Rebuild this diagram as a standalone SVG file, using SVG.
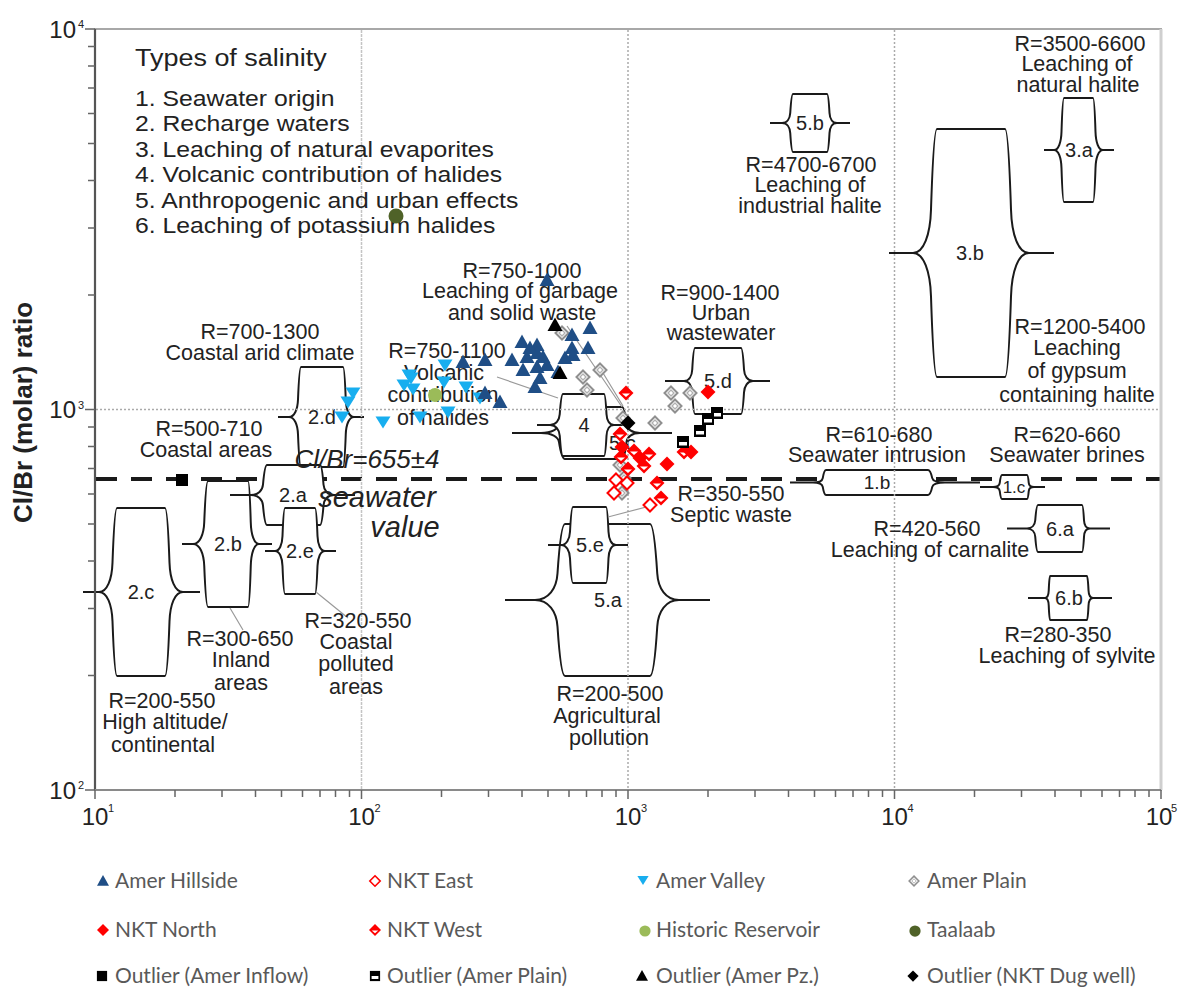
<svg xmlns="http://www.w3.org/2000/svg" xmlns:xlink="http://www.w3.org/1999/xlink" width="1178" height="989" viewBox="0 0 1178 989">
  <style>
    text { font-family: "Liberation Sans", Arial, sans-serif; fill: #222; }
    .ann { font-size: 21.5px; text-anchor: middle; }
    .lab { font-size: 20px; text-anchor: middle; fill: #222; stroke: none; }
    .rng use, .rng path { fill: #fff; stroke: #1a1a1a; stroke-width: 2; }
    .fw { fill: #fff; stroke: none; }
    .grid { stroke: #aaa; stroke-width: 1.5; stroke-dasharray: 2 2; fill: none; }
    .lead { stroke: #9a9a9a; stroke-width: 1.2; fill: none; }
    .tick { stroke: #666; stroke-width: 1.5; fill: none; }
    .dec { font-size: 24px; }
    .sup { font-size: 11px; }
    .it { font-style: italic; }
    .leg { font-family: Lato, "Open Sans", sans-serif; font-size: 21px; fill: #595959; }
  </style>
  <defs>
    <!-- one side of a range bracket: unit height, tip at (1,0) -->
    <path id="br" vector-effect="non-scaling-stroke" d="M0,-1 C0.12,-1 0.2,-0.65 0.25,-0.35 C0.28,-0.15 0.55,0 1,0 C0.55,0 0.28,0.15 0.25,0.35 C0.2,0.65 0.12,1 0,1"/>
    <!-- sample markers -->
    <path id="mHill" d="M0,-7.5 L7.5,6 L-7.5,6 Z" fill="#1f4e86"/>
    <path id="mPz" d="M0,-7.5 L7.5,6 L-7.5,6 Z" fill="#000"/>
    <path id="mValley" d="M-7.5,-5.5 L7.5,-5.5 L0,6.5 Z" fill="#18aeef"/>
    <path id="mEast" d="M0,-6.5 L6.5,0 L0,6.5 L-6.5,0 Z" fill="#fff" stroke="#f00" stroke-width="2"/>
    <g id="mWest"><path d="M0,-7.5 L7.5,0 L0,7.5 L-7.5,0 Z" fill="#f00"/><path d="M-4,0.5 L4,0.5 L0,4 Z" fill="#fff"/></g>
    <path id="mNorth" d="M0,-7.5 L7.5,0 L0,7.5 L-7.5,0 Z" fill="#f00"/>
    <g id="mPlain"><path d="M0,-6.5 L6.5,0 L0,6.5 L-6.5,0 Z" fill="#fff" stroke="#8f8f8f" stroke-width="2"/><path d="M0,-3 L3,0 L0,3 L-3,0 Z" fill="none" stroke="#b0b0b0" stroke-width="1.3"/></g>
    <path id="mDug" d="M0,-7.5 L7.5,0 L0,7.5 L-7.5,0 Z" fill="#000"/>
    <rect id="mInflow" x="-6" y="-6" width="12" height="12" fill="#000"/>
    <g id="mOutPl"><rect x="-6" y="-6" width="12" height="12" fill="#000"/><rect x="-4" y="0" width="8" height="3.5" fill="#fff"/></g>
    <circle id="mHist" r="7" fill="#9bbb59"/>
    <circle id="mTaa" r="7.5" fill="#4f6228"/>
  </defs>

  <rect width="1178" height="989" fill="#fff"/>

  <!-- seawater reference line (Cl/Br = 655) -->
  <line x1="96" y1="479" x2="1161" y2="479" stroke="#1a1a1a" stroke-width="4" stroke-dasharray="21 14"/>

  <!-- range brackets -->
  <g id="shape-2c" class="rng">
    <rect class="fw" x="117" y="508" width="48" height="168"/>
    <use href="#br" transform="translate(165,592) scale(18,84)"/>
    <use href="#br" transform="translate(117,592) scale(-18,84)"/>
    <path d="M83,592H99M183,592H200M117,508H165M117,676H165"/>
    <text class="lab" x="141" y="599">2.c</text>
  </g>
  <g id="shape-2b" class="rng">
    <rect class="fw" x="208" y="481" width="40" height="126"/>
    <use href="#br" transform="translate(248,544) scale(11,63)"/>
    <use href="#br" transform="translate(208,544) scale(-15,63)"/>
    <path d="M182,544H193M259,544H272M208,481H248M208,607H248"/>
    <text class="lab" x="228" y="551">2.b</text>
  </g>
  <g id="shape-2d" class="rng">
    <rect class="fw" x="301" y="367" width="42" height="100"/>
    <use href="#br" transform="translate(343,417) scale(11,50)"/>
    <use href="#br" transform="translate(301,417) scale(-12,50)"/>
    <path d="M278,417H289M354,417H364M301,367H343M301,467H343"/>
    <text class="lab" x="322" y="424">2.d</text>
  </g>
  <g id="shape-2a" class="rng">
    <rect class="fw" x="267" y="465" width="53" height="60"/>
    <use href="#br" transform="translate(320,495) scale(14,30)"/>
    <use href="#br" transform="translate(267,495) scale(-16,30)"/>
    <path d="M230,495H251M334,495H355M267,465H320M267,525H320"/>
    <text class="lab" x="293" y="502">2.a</text>
  </g>
  <g id="shape-2e" class="rng">
    <rect class="fw" x="285" y="508" width="30" height="86"/>
    <use href="#br" transform="translate(315,551) scale(10,43)"/>
    <use href="#br" transform="translate(285,551) scale(-10,43)"/>
    <path d="M265,551H275M325,551H336M285,508H315M285,594H315"/>
    <text class="lab" x="300" y="558">2.e</text>
  </g>
  <g id="shape-5c" class="rng">
    <rect class="fw" x="565" y="407" width="57" height="52"/>
    <use href="#br" transform="translate(622,433) scale(18,26)"/>
    <use href="#br" transform="translate(565,433) scale(-24,26)"/>
    <path d="M512,433H541M640,433H672M565,407H622M565,459H622"/>
    <text class="lab" x="609" y="450" style="text-anchor:start">5.c</text>
  </g>
  <g id="shape-4" class="rng">
    <rect class="fw" x="563" y="394" width="41" height="62"/>
    <use href="#br" transform="translate(604,425) scale(10,31)"/>
    <use href="#br" transform="translate(563,425) scale(-13,31)"/>
    <path d="M537,425H550M614,425H626M563,394H604M563,456H604"/>
    <text class="lab" x="584" y="432">4</text>
  </g>
  <g id="shape-5a" class="rng">
    <rect class="fw" x="565" y="524" width="85" height="152"/>
    <use href="#br" transform="translate(650,600) scale(29,76)"/>
    <use href="#br" transform="translate(565,600) scale(-30,76)"/>
    <path d="M505,600H535M679,600H710M565,524H650M565,676H650"/>
    <text class="lab" x="608" y="607">5.a</text>
  </g>
  <g id="shape-5e" class="rng">
    <rect class="fw" x="573" y="507" width="33" height="76"/>
    <use href="#br" transform="translate(606,545) scale(10,38)"/>
    <use href="#br" transform="translate(573,545) scale(-12,38)"/>
    <path d="M548,545H561M616,545H628M573,507H606M573,583H606"/>
    <text class="lab" x="590" y="552">5.e</text>
  </g>
  <g id="shape-5d" class="rng">
    <rect class="fw" x="695" y="348" width="46" height="66"/>
    <use href="#br" transform="translate(741,381) scale(12,33)"/>
    <use href="#br" transform="translate(695,381) scale(-11,33)"/>
    <path d="M665,381H684M753,381H770M695,348H741M695,414H741"/>
    <text class="lab" x="718" y="388">5.d</text>
  </g>
  <g id="shape-5b" class="rng">
    <rect class="fw" x="793" y="94" width="34" height="58"/>
    <use href="#br" transform="translate(827,123) scale(10,29)"/>
    <use href="#br" transform="translate(793,123) scale(-11,29)"/>
    <path d="M770,123H782M837,123H850M793,94H827M793,152H827"/>
    <text class="lab" x="810" y="130">5.b</text>
  </g>
  <g id="shape-3b" class="rng">
    <rect class="fw" x="937" y="129" width="68" height="248"/>
    <use href="#br" transform="translate(1005,253) scale(24,124)"/>
    <use href="#br" transform="translate(937,253) scale(-24,124)"/>
    <path d="M889,253H913M1029,253H1054M937,129H1005M937,377H1005"/>
    <text class="lab" x="970" y="260">3.b</text>
  </g>
  <g id="shape-3a" class="rng">
    <rect class="fw" x="1064" y="98" width="29" height="104"/>
    <use href="#br" transform="translate(1093,150) scale(10,52)"/>
    <use href="#br" transform="translate(1064,150) scale(-10,52)"/>
    <path d="M1044,150H1054M1103,150H1114M1064,98H1093M1064,202H1093"/>
    <text class="lab" x="1079" y="157">3.a</text>
  </g>
  <g id="shape-1b" class="rng">
    <rect class="fw" x="826" y="470" width="102" height="25"/>
    <use href="#br" transform="translate(928,482.5) scale(17,12.5)"/>
    <use href="#br" transform="translate(826,482.5) scale(-13,12.5)"/>
    <path d="M790,482.5H813M945,482.5H980M826,470H928M826,495H928"/>
    <text class="lab" x="877" y="489" style="font-size:19px">1.b</text>
  </g>
  <g id="shape-1c" class="rng">
    <rect class="fw" x="1002" y="475" width="25" height="24"/>
    <use href="#br" transform="translate(1027,487) scale(7,12)"/>
    <use href="#br" transform="translate(1002,487) scale(-9,12)"/>
    <path d="M980,487H993M1034,487H1045M1002,475H1027M1002,499H1027"/>
    <text class="lab" x="1014" y="493" style="font-size:17px">1.c</text>
  </g>
  <g id="shape-6a" class="rng">
    <rect class="fw" x="1038" y="505" width="44" height="47"/>
    <use href="#br" transform="translate(1082,528.5) scale(8,23.5)"/>
    <use href="#br" transform="translate(1038,528.5) scale(-11,23.5)"/>
    <path d="M1007,528.5H1027M1090,528.5H1110M1038,505H1082M1038,552H1082"/>
    <text class="lab" x="1060" y="536">6.a</text>
  </g>
  <g id="shape-6b" class="rng">
    <rect class="fw" x="1050" y="576" width="37" height="44"/>
    <use href="#br" transform="translate(1087,598) scale(6,22)"/>
    <use href="#br" transform="translate(1050,598) scale(-5,22)"/>
    <path d="M1028,598H1045M1093,598H1112M1050,576H1087M1050,620H1087"/>
    <text class="lab" x="1069" y="605">6.b</text>
  </g>

  <!-- grid lines at whole decades -->
  <g id="grid">
    <line class="grid" x1="361.5" y1="30" x2="361.5" y2="789" style="stroke:#c4c4c4;stroke-dasharray:3 1"/>
    <line class="grid" x1="628" y1="30" x2="628" y2="789"/>
    <line class="grid" x1="894.5" y1="30" x2="894.5" y2="789"/>
    <line class="grid" x1="96" y1="409.5" x2="1160" y2="409.5"/>
  </g>

  <!-- plot frame and axes -->
  <g id="axes">
    <rect x="95" y="29" width="1066" height="761" fill="none" stroke="#a8a8a8" stroke-width="2"/>
    <line x1="1161" y1="29" x2="1161" y2="790" stroke="#cfcfcf" stroke-width="3"/>
    <line x1="95" y1="29" x2="95" y2="790" stroke="#555" stroke-width="2.2"/>
    <line x1="95" y1="790" x2="1161" y2="790" stroke="#8a8a8a" stroke-width="2"/>
    <path class="tick" d="M85,790H95M85,409.5H95M85,29H95
      M88,675.5H95M88,608.5H95M88,561H95M88,524H95M88,494H95M88,468.5H95M88,446.5H95M88,427H95
      M88,295H95M88,228H95M88,180.5H95M88,143.5H95M88,113.5H95M88,88H95M88,66H95M88,46.5H95"/>
    <path class="tick" d="M95,790V799M361.5,790V799M628,790V799M894.5,790V799M1161,790V799
      M175,790V797M222,790V797M255.5,790V797M281.5,790V797M302.5,790V797M320,790V797M335.5,790V797M349.5,790V797
      M441.5,790V797M488.5,790V797M522,790V797M548,790V797M569,790V797M586.5,790V797M602,790V797M616,790V797
      M708,790V797M755,790V797M788.5,790V797M814.5,790V797M835.5,790V797M853,790V797M868.5,790V797M882.5,790V797
      M974.5,790V797M1021.5,790V797M1055,790V797M1081,790V797M1102,790V797M1119.5,790V797M1135,790V797M1149,790V797"/>
    <text class="dec" x="76" y="798.5" text-anchor="end">10</text><text class="sup" x="78" y="789">2</text>
    <text class="dec" x="76" y="418" text-anchor="end">10</text><text class="sup" x="78" y="408.5">3</text>
    <text class="dec" x="76" y="38" text-anchor="end">10</text><text class="sup" x="78" y="28">4</text>
    <text class="dec" x="95" y="825" text-anchor="middle">10</text><text class="sup" x="108" y="812">1</text>
    <text class="dec" x="361.5" y="825" text-anchor="middle">10</text><text class="sup" x="374.5" y="812">2</text>
    <text class="dec" x="628" y="825" text-anchor="middle">10</text><text class="sup" x="641" y="812">3</text>
    <text class="dec" x="894.5" y="825" text-anchor="middle">10</text><text class="sup" x="907.5" y="812">4</text>
    <text class="dec" x="1159" y="825" text-anchor="middle">10</text><text class="sup" x="1171" y="812">5</text>
    <text transform="translate(32,412.5) rotate(-90)" text-anchor="middle" style="font-size:26px;font-weight:bold">Cl/Br (molar) ratio</text>
  </g>

  <!-- list of salinity types -->
  <g id="types" transform="translate(135,0) scale(1.1,1)">
    <text x="0" y="66.5" style="font-size:24.5px">Types of salinity</text>
    <text x="0" y="106" style="font-size:22.5px">1. Seawater origin</text>
    <text x="0" y="131.5" style="font-size:22.5px">2. Recharge waters</text>
    <text x="0" y="157" style="font-size:22.5px">3. Leaching of natural evaporites</text>
    <text x="0" y="182.5" style="font-size:22.5px">4. Volcanic contribution of halides</text>
    <text x="0" y="208" style="font-size:22.5px">5. Anthropogenic and urban effects</text>
    <text x="0" y="233.5" style="font-size:22.5px">6. Leaching of potassium halides</text>
  </g>

  <!-- leader lines from labels to brackets -->
  <g id="leaders">
    <path class="lead" d="M497,377L558,398M567,326L622,407M600,368L623,406M608,517L650,506M230,608L243,630M316,592L348,618"/>
  </g>

  <!-- range annotations -->
  <g id="annotations" class="ann">
    <text class="ann" x="1080" y="51">R=3500-6600</text>
    <text class="ann" x="1077" y="71">Leaching of</text>
    <text class="ann" x="1078" y="92">natural halite</text>
    <text class="ann" x="811" y="172">R=4700-6700</text>
    <text class="ann" x="810" y="192">Leaching of</text>
    <text class="ann" x="810" y="213">industrial halite</text>
    <text class="ann" x="522" y="278">R=750-1000</text>
    <text class="ann" x="520" y="298">Leaching of garbage</text>
    <text class="ann" x="522" y="320">and solid waste</text>
    <text class="ann" x="720" y="300">R=900-1400</text>
    <text class="ann" x="721" y="320">Urban</text>
    <text class="ann" x="721" y="340">wastewater</text>
    <text class="ann" x="1080" y="334">R=1200-5400</text>
    <text class="ann" x="1077" y="355">Leaching</text>
    <text class="ann" x="1077" y="378">of gypsum</text>
    <text class="ann" x="1077" y="402">containing halite</text>
    <text class="ann" x="260" y="339">R=700-1300</text>
    <text class="ann" x="260" y="360">Coastal arid climate</text>
    <text class="ann" x="447" y="358">R=750-1100</text>
    <text class="ann" x="444" y="380">Volcanic</text>
    <text class="ann" x="443" y="402">contribution</text>
    <text class="ann" x="443" y="425">of halides</text>
    <text class="ann" x="209" y="436">R=500-710</text>
    <text class="ann" x="206" y="457">Coastal areas</text>
    <text class="ann" x="879" y="442">R=610-680</text>
    <text class="ann" x="877" y="462">Seawater intrusion</text>
    <text class="ann" x="1067" y="442">R=620-660</text>
    <text class="ann" x="1067" y="462">Seawater brines</text>
    <text class="ann" x="731" y="501">R=350-550</text>
    <text class="ann" x="731" y="522">Septic waste</text>
    <text class="ann" x="927" y="536">R=420-560</text>
    <text class="ann" x="930" y="557">Leaching of carnalite</text>
    <text class="ann" x="358" y="628">R=320-550</text>
    <text class="ann" x="356" y="649">Coastal</text>
    <text class="ann" x="356" y="671">polluted</text>
    <text class="ann" x="356" y="694">areas</text>
    <text class="ann" x="240" y="646">R=300-650</text>
    <text class="ann" x="241" y="667">Inland</text>
    <text class="ann" x="241" y="690">areas</text>
    <text class="ann" x="1058" y="642">R=280-350</text>
    <text class="ann" x="1067" y="663">Leaching of sylvite</text>
    <text class="ann" x="610" y="701">R=200-500</text>
    <text class="ann" x="607" y="723">Agricultural</text>
    <text class="ann" x="609" y="745">pollution</text>
    <text class="ann" x="162" y="708">R=200-550</text>
    <text class="ann" x="165" y="729">High altitude/</text>
    <text class="ann" x="163" y="752">continental</text>
    <text class="it" x="367" y="468" style="font-size:26px">Cl/Br=655±4</text>
    <text class="it" x="377" y="507" style="font-size:29px">seawater</text>
    <text class="it" x="405" y="537" style="font-size:29px">value</text>
  </g>

  <!-- samples -->
  <g id="amer-plain">
    <use href="#mPlain" x="562" y="333"/><use href="#mPlain" x="583" y="377"/><use href="#mPlain" x="600" y="370"/>
    <use href="#mPlain" x="587" y="390"/><use href="#mPlain" x="623" y="418"/><use href="#mPlain" x="655" y="423"/>
    <use href="#mPlain" x="671" y="393"/><use href="#mPlain" x="675" y="406"/><use href="#mPlain" x="690" y="393"/>
    <use href="#mPlain" x="620" y="465"/><use href="#mPlain" x="624" y="478"/><use href="#mPlain" x="622" y="493"/>
  </g>
  <g id="nkt-east">
    <use href="#mEast" x="616" y="480"/><use href="#mEast" x="627" y="483"/><use href="#mEast" x="650" y="505"/><use href="#mEast" x="614" y="493"/>
  </g>
  <g id="nkt-west">
    <use href="#mWest" x="626" y="393"/><use href="#mWest" x="620" y="434"/><use href="#mWest" x="621" y="457"/>
    <use href="#mWest" x="634" y="451"/><use href="#mWest" x="649" y="454"/><use href="#mWest" x="628" y="469"/>
    <use href="#mWest" x="644" y="466"/><use href="#mWest" x="684" y="452"/><use href="#mWest" x="657" y="483"/>
    <use href="#mWest" x="661" y="498"/>
  </g>
  <g id="nkt-north">
    <use href="#mNorth" x="622" y="447"/><use href="#mNorth" x="640" y="458"/><use href="#mNorth" x="667" y="464"/>
    <use href="#mNorth" x="691" y="452"/><use href="#mNorth" x="708" y="392"/>
  </g>
  <g id="amer-valley">
    <use href="#mValley" x="353" y="393"/><use href="#mValley" x="348" y="402"/><use href="#mValley" x="342" y="417"/>
    <use href="#mValley" x="383" y="422"/><use href="#mValley" x="409" y="375"/><use href="#mValley" x="404" y="385"/>
    <use href="#mValley" x="413" y="389"/><use href="#mValley" x="445" y="365"/><use href="#mValley" x="444" y="382"/>
    <use href="#mValley" x="466" y="387"/><use href="#mValley" x="480" y="398"/><use href="#mValley" x="420" y="417"/>
    <use href="#mValley" x="448" y="412"/><use href="#mValley" x="411" y="378"/>
  </g>
  <g id="amer-hillside">
    <use href="#mHill" x="547" y="280"/><use href="#mHill" x="572" y="335"/><use href="#mHill" x="590" y="328"/>
    <use href="#mHill" x="522" y="342"/><use href="#mHill" x="537" y="345"/><use href="#mHill" x="512" y="360"/>
    <use href="#mHill" x="527" y="357"/><use href="#mHill" x="537" y="353"/><use href="#mHill" x="543" y="357"/>
    <use href="#mHill" x="523" y="370"/><use href="#mHill" x="537" y="367"/><use href="#mHill" x="535" y="387"/>
    <use href="#mHill" x="463" y="362"/><use href="#mHill" x="485" y="360"/><use href="#mHill" x="500" y="402"/>
    <use href="#mHill" x="485" y="393"/><use href="#mHill" x="572" y="348"/><use href="#mHill" x="565" y="358"/>
    <use href="#mHill" x="588" y="348"/><use href="#mHill" x="573" y="355"/><use href="#mHill" x="530" y="348"/>
    <use href="#mHill" x="547" y="365"/><use href="#mHill" x="540" y="378"/><use href="#mHill" x="558" y="372"/>
  </g>
  <g id="historic-reservoir"><use href="#mHist" x="435" y="395"/></g>
  <g id="taalaab"><use href="#mTaa" x="396" y="216"/></g>
  <g id="outliers">
    <use href="#mInflow" x="182" y="480"/>
    <use href="#mOutPl" x="717" y="413"/><use href="#mOutPl" x="708" y="419"/><use href="#mOutPl" x="700" y="431"/><use href="#mOutPl" x="683" y="442"/>
    <use href="#mPz" x="555" y="325"/><use href="#mPz" x="560" y="373"/>
    <use href="#mDug" x="628" y="423"/>
  </g>

  <!-- legend -->
  <g id="legend">
    <use href="#mHill" transform="translate(103,881) scale(0.8)"/><text class="leg" x="115" y="888">Amer Hillside</text>
    <use href="#mEast" transform="translate(375,881) scale(0.8)"/><text class="leg" x="387" y="888">NKT East</text>
    <use href="#mValley" transform="translate(643,880) scale(0.75)"/><text class="leg" x="656" y="888">Amer Valley</text>
    <use href="#mPlain" transform="translate(914,881) scale(0.75)"/><text class="leg" x="927" y="888">Amer Plain</text>
    <use href="#mNorth" transform="translate(103,930) scale(0.8)"/><text class="leg" x="115" y="937">NKT North</text>
    <use href="#mWest" transform="translate(375,930) scale(0.8)"/><text class="leg" x="387" y="937">NKT West</text>
    <use href="#mHist" transform="translate(645,931) scale(0.8)"/><text class="leg" x="656" y="937">Historic Reservoir</text>
    <use href="#mTaa" transform="translate(915,931) scale(0.75)"/><text class="leg" x="927" y="937">Taalaab</text>
    <use href="#mInflow" transform="translate(102,976) scale(0.85)"/><text class="leg" x="115" y="983">Outlier (Amer Inflow)</text>
    <use href="#mOutPl" transform="translate(375,976) scale(0.85)"/><text class="leg" x="387" y="983">Outlier (Amer Plain)</text>
    <use href="#mPz" transform="translate(642,976) scale(0.8)"/><text class="leg" x="656" y="983">Outlier (Amer Pz.)</text>
    <use href="#mDug" transform="translate(913,976) scale(0.75)"/><text class="leg" x="927" y="983">Outlier (NKT Dug well)</text>
  </g>
</svg>
